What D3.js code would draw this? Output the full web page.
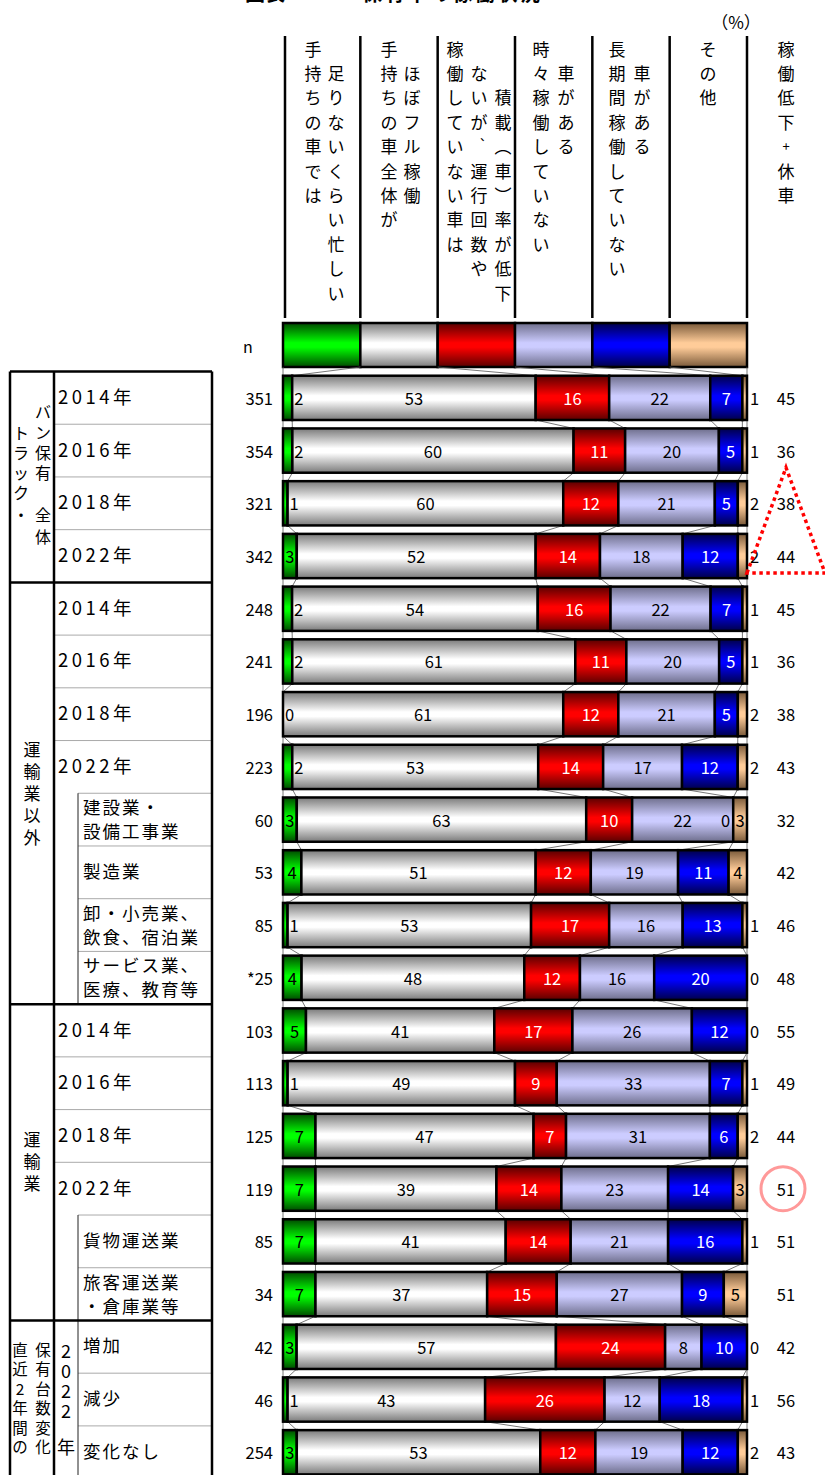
<!DOCTYPE html>
<html>
<head>
<meta charset="utf-8">
<script src="https://cdn.jsdelivr.net/npm/d3@7"></script>
<style>
	body { margin: 0; background: #fff; }
	svg { display: block; font-family: "Noto Sans CJK JP", "Noto Sans", sans-serif; }
</style>
</head>
<body>
<svg id="chart"></svg>
<script>

// ---- data ----

var rowLabels = ["2014年", "2016年", "2018年", "2022年",
	"2014年", "2016年", "2018年", "2022年",
	"建設業・\n設備工事業", "製造業", "卸・小売業、\n飲食、宿泊業", "サービス業、\n医療、教育等",
	"2014年", "2016年", "2018年", "2022年", "貨物運送業", "旅客運送業\n・倉庫業等",
	"増加", "減少", "変化なし"];

// sub rows (indented in the table)
var subRows = [8, 9, 10, 11, 16, 17, 18, 19, 20];

var sampleSizes = ["351", "354", "321", "342", "248", "241", "196", "223", "60", "53", "85", "*25",
	"103", "113", "125", "119", "85", "34", "42", "46", "254"];

var busy      = [2, 2, 1, 3, 2, 2, 0, 2, 3, 4, 1, 4, 5, 1, 7, 7, 7, 7, 3, 1, 3];
var fullUse   = [53, 60, 60, 52, 54, 61, 61, 53, 63, 51, 53, 48, 41, 49, 47, 39, 41, 37, 57, 43, 53];
var lowLoad   = [16, 11, 12, 14, 16, 11, 12, 14, 10, 12, 17, 12, 17, 9, 7, 14, 14, 15, 24, 26, 12];
var sometimes = [22, 20, 21, 18, 22, 20, 21, 17, 22, 19, 16, 16, 26, 33, 31, 23, 21, 27, 8, 12, 19];
var longIdle  = [7, 5, 5, 12, 7, 5, 5, 12, 0, 11, 13, 20, 12, 7, 6, 14, 16, 9, 10, 18, 12];
var other     = [1, 1, 2, 2, 1, 1, 2, 2, 3, 4, 1, 0, 0, 1, 2, 3, 1, 5, 0, 1, 2];

var lowPlusIdle = [45, 36, 38, 44, 45, 36, 38, 43, 32, 42, 46, 48, 55, 49, 44, 51, 51, 51, 42, 56, 43];

// header texts, split the way the reference wraps them
var categories = [
	["手持ちの車では", "足りないくらい忙しい"],
	["手持ちの車全体が", "ほぼフル稼働"],
	["稼働していない車は", "ないが、運行回数や", "積載（車）率が低下"],
	["時々稼働していない", "車がある"],
	["長期間稼働していない", "車がある"],
	["その他"]
];
var extraHeader = "稼働低下+休車";

var groups = [
	{ first: 0, last: 3 },
	{ first: 4, last: 11 },
	{ first: 12, last: 17 },
	{ first: 18, last: 20 }
];

// ---- layout ----

var W = 825, H = 1475;
var barL = 283, barR = 747;
var tableTop = 371.5, pitch = 52.72;
var colX = [10, 54, 78, 212];

var fills = [
	{ edge: "#004a00", mid: "#00ff00", text: "#000" },
	{ edge: "#7a7a7a", mid: "#ffffff", text: "#000" },
	{ edge: "#5a0000", mid: "#ff0000", text: "#fff" },
	{ edge: "#6e6e8c", mid: "#ccccff", text: "#000" },
	{ edge: "#00004a", mid: "#0000ff", text: "#fff" },
	{ edge: "#7a5a3a", mid: "#ffcc99", text: "#000" }
];

var series = [busy, fullUse, lowLoad, sometimes, longIdle, other];
var rows = rowLabels.map(function(l, i) {
	var vals = series.map(function(s) { return s[i]; });
	return { i: i, label: l, n: sampleSizes[i], vals: vals, total: d3.sum(vals), sum: lowPlusIdle[i], sub: subRows.indexOf(i) >= 0 };
});

var svg = d3.select("#chart").attr("width", W).attr("height", H);

var defs = svg.append("defs");
fills.forEach(function(f, k) {
	var g = defs.append("linearGradient").attr("id", "grad" + k)
		.attr("x1", 0).attr("y1", 0).attr("x2", 0).attr("y2", 1);
	g.append("stop").attr("offset", "0").attr("stop-color", f.edge);
	g.append("stop").attr("offset", "0.45").attr("stop-color", f.mid);
	g.append("stop").attr("offset", "0.55").attr("stop-color", f.mid);
	g.append("stop").attr("offset", "1").attr("stop-color", f.edge);
});

var y = d3.scaleBand()
	.domain(rows.map(function(d) { return d.i; }))
	.range([tableTop, tableTop + pitch * rows.length])
	.paddingInner(0.16)
	.paddingOuter(0.08);

var bw = y.bandwidth();
function rowTop(i) { return tableTop + i * pitch; }
function rowMid(i) { return y(i) + bw / 2; }

// ---- title (cut off at the top) ----

svg.append("text").attr("x", 245).attr("y", 1).style("font-size", "20px").style("font-weight", "bold").text("図表");
svg.append("text").attr("x", 362).attr("y", 1).style("font-size", "20px").style("font-weight", "bold")
	.attr("textLength", 178).text("保有車の稼働状況");

svg.append("text").attr("x", 736).attr("y", 21).attr("text-anchor", "middle")
	.attr("dominant-baseline", "central")
	.style("font-size", "17px").text("（%）");

// ---- header ----

var legendX = d3.scaleLinear().domain([0, categories.length]).range([barL, barR]);

var headerLines = d3.range(categories.length + 1).map(function(k) { return k === 0 ? legendX(k) + 2 : legendX(k); });
svg.append("g").selectAll("line")
	.data(headerLines).enter().append("line")
	.attr("x1", function(d) { return d; }).attr("x2", function(d) { return d; })
	.attr("y1", 36).attr("y2", 318)
	.style("stroke", "#000").style("stroke-width", 2.5);

// x of each wrapped column inside its header cell, and the row it starts at
var headerCols = [
	{ xs: [313, 336], start: [0, 1] },
	{ xs: [389, 412], start: [0, 1] },
	{ xs: [455, 479, 503], start: [0, 1, 2] },
	{ xs: [541, 566], start: [0, 1] },
	{ xs: [617, 642], start: [0, 1] },
	{ xs: [708], start: [0] }
];

var vertForms = { "（": "︵", "）": "︶" };

function verticalText(g, x, y0, step, str, fs) {
	Array.from(str).forEach(function(ch, j) {
		var comma = ch === "、";
		g.append("text")
			.attr("x", comma ? x + 7 : x)
			.attr("y", comma ? y0 + j * step - 10 : y0 + j * step)
			.attr("text-anchor", "middle")
			.attr("dominant-baseline", "central")
			.style("font-size", (ch === "+" ? 13 : comma ? 12 : fs) + "px")
			.text(vertForms[ch] || ch);
	});
}

var header = svg.append("g");
categories.forEach(function(lines, k) {
	lines.forEach(function(s, j) {
		verticalText(header, headerCols[k].xs[j], 48 + headerCols[k].start[j] * 24.4, 24.4, s, 17);
	});
});
verticalText(header, 786, 48, 24.4, extraHeader, 17);

// legend bar
svg.append("g").selectAll("rect")
	.data(categories).enter().append("rect")
	.attr("x", function(d, k) { return legendX(k); })
	.attr("width", legendX(1) - legendX(0))
	.attr("y", 323).attr("height", 44)
	.style("fill", function(d, k) { return "url(#grad" + k + ")"; })
	.style("stroke", "#000").style("stroke-width", 2.5);

svg.append("text").attr("x", 243).attr("y", 353).style("font-size", "16px").text("n");

// ---- series lines between bars ----

function bounds(d) {
	var x = d3.scaleLinear().domain([0, d.total]).range([barL, barR]);
	var c = 0, out = [x(0)];
	d.vals.forEach(function(v) { c += v; out.push(x(c)); });
	return out;
}

var legendBounds = d3.range(categories.length + 1).map(legendX);
var seriesLines = [];
rows.forEach(function(d, i) {
	var prevB = i === 0 ? legendBounds : bounds(rows[i - 1]);
	var prevBottom = i === 0 ? 367 : y(i - 1) + bw;
	var b = bounds(d);
	b.forEach(function(xv, k) {
		seriesLines.push({ x1: prevB[k], y1: prevBottom, x2: xv, y2: y(i) });
	});
});
svg.append("g").selectAll("line")
	.data(seriesLines).enter().append("line")
	.attr("x1", function(d) { return d.x1; }).attr("y1", function(d) { return d.y1; })
	.attr("x2", function(d) { return d.x2; }).attr("y2", function(d) { return d.y2; })
	.style("stroke", "#555").style("stroke-width", 0.8);

// ---- bars ----

var bars = svg.append("g").selectAll("g.bar")
	.data(rows).enter().append("g").attr("class", "bar");

bars.each(function(d) {
	var g = d3.select(this);
	var b = bounds(d);
	var top = y(d.i);
	d.vals.forEach(function(v, k) {
		g.append("rect")
			.attr("x", b[k]).attr("width", b[k + 1] - b[k])
			.attr("y", top).attr("height", bw)
			.style("fill", "url(#grad" + k + ")")
			.style("stroke", "#000").style("stroke-width", 2.5);
	});
	d.vals.forEach(function(v, k) {
		var tx, anchor = "middle", col = fills[k].text;
		if (k === 0 && v <= 2) { tx = b[1] + 2; anchor = "start"; col = "#000"; }
		else if (k === 5 && v <= 2) { tx = barR + 3; anchor = "start"; col = "#000"; }
		else if (v === 0) { tx = b[k] - 3; anchor = "end"; col = "#000"; }
		else tx = (b[k] + b[k + 1]) / 2;
		g.append("text")
			.attr("x", tx).attr("y", top + bw / 2)
			.attr("text-anchor", anchor).attr("dominant-baseline", "central")
			.style("font-size", "16.5px").style("fill", col)
			.text(v);
	});
});

// n and right-hand totals
svg.append("g").selectAll("text")
	.data(rows).enter().append("text")
	.attr("x", 273).attr("y", function(d) { return rowMid(d.i); })
	.attr("text-anchor", "end").attr("dominant-baseline", "central")
	.style("font-size", "16.5px").text(function(d) { return d.n; });

svg.append("g").selectAll("text")
	.data(rows).enter().append("text")
	.attr("x", 786).attr("y", function(d) { return rowMid(d.i); })
	.attr("text-anchor", "middle").attr("dominant-baseline", "central")
	.style("font-size", "16.5px").text(function(d) { return d.sum; });

// ---- left table ----

var table = svg.append("g");

rows.forEach(function(d) {
	var g = groups.filter(function(gr) { return d.i >= gr.first && d.i <= gr.last; })[0];
	if (d.i !== g.first) {
		table.append("line")
			.attr("x1", d.sub ? colX[2] : colX[1]).attr("x2", colX[3])
			.attr("y1", rowTop(d.i)).attr("y2", rowTop(d.i))
			.style("stroke", "#aaa").style("stroke-width", 1);
	}
	var lines = d.label.split("\n");
	var tx = d.sub ? 83 : 58;
	lines.forEach(function(l, j) {
		table.append("text")
			.attr("x", tx)
			.attr("y", rowMid(d.i) + (j - (lines.length - 1) / 2) * 24 - (lines.length > 1 ? 1 : 2))
			.attr("dominant-baseline", "central")
			.style("font-size", d.sub ? "17.5px" : "18.5px")
			.style("letter-spacing", d.sub ? "2px" : "3.5px")
			.text(l);
	});
});

// vertical line in front of sub rows
var runs = [];
subRows.forEach(function(i) {
	var last = runs[runs.length - 1];
	if (last && last[1] === i - 1) last[1] = i; else runs.push([i, i]);
});
runs.forEach(function(r) {
	table.append("line")
		.attr("x1", colX[2]).attr("x2", colX[2])
		.attr("y1", rowTop(r[0])).attr("y2", rowTop(r[1] + 1))
		.style("stroke", "#222").style("stroke-width", 1);
});

// thick frame
var bottom = rowTop(rows.length);
[colX[0], colX[1], colX[3]].forEach(function(x) {
	table.append("line").attr("x1", x).attr("x2", x).attr("y1", tableTop).attr("y2", bottom)
		.style("stroke", "#000").style("stroke-width", 2.5);
});
groups.forEach(function(gr) {
	table.append("line").attr("x1", colX[0]).attr("x2", colX[3])
		.attr("y1", rowTop(gr.first)).attr("y2", rowTop(gr.first))
		.style("stroke", "#000").style("stroke-width", 2.5);
});

// vertical group captions
var captions = table.append("g");
function charsAt(list, x, fs) {
	list.forEach(function(c) {
		captions.append("text").attr("x", x).attr("y", c[1])
			.attr("text-anchor", "middle").attr("dominant-baseline", "central")
			.style("font-size", fs + "px").text(c[0]);
	});
}
charsAt([["ト", 432], ["ラ", 452], ["ッ", 472], ["ク", 492], ["・", 514]], 21, 16);
charsAt([["バ", 411], ["ン", 432], ["保", 452], ["有", 472], ["全", 514], ["体", 536]], 43, 16);
charsAt([["運", 748], ["輸", 770], ["業", 792], ["以", 814], ["外", 836]], 32, 17);
charsAt([["運", 1138], ["輸", 1160], ["業", 1182]], 32, 17);
charsAt([["直", 1349], ["近", 1368], ["2", 1388], ["年", 1407], ["間", 1427], ["の", 1446]], 20, 15.5);
charsAt([["保", 1349], ["有", 1368], ["台", 1388], ["数", 1407], ["変", 1427], ["化", 1446]], 43, 15.5);
charsAt([["2", 1350], ["0", 1370], ["2", 1390], ["2", 1410], ["年", 1446]], 66, 18);

// ---- annotations ----

var apex = rowMid(1) + 17;
svg.append("path")
	.attr("d", "M" + 747 + "," + 573 + "L" + 786 + "," + apex + "L" + 825 + "," + 573 + "Z")
	.style("fill", "none").style("stroke", "#ff0000").style("stroke-width", 3.5)
	.style("stroke-dasharray", "3.5,3.5");

svg.append("circle")
	.attr("cx", 783).attr("cy", rowMid(15)).attr("r", 22)
	.style("fill", "none").style("stroke", "#ff9999").style("stroke-width", 3);

</script>
</body>
</html>
